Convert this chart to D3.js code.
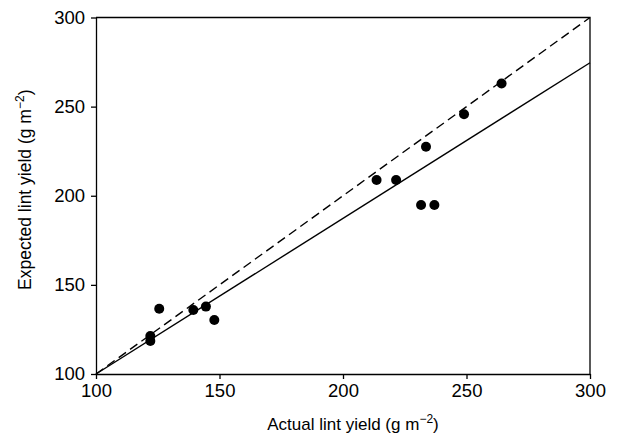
<!DOCTYPE html>
<html lang="en">
<head>
<meta charset="UTF-8">
<title>Expected vs actual lint yield</title>
<script src="https://d3js.org/d3.v7.min.js"></script>
<style>
  body { margin: 0; background: #fff; font-family: "Liberation Sans", Arial, sans-serif; }
  .axis path, .axis line { stroke: #000; stroke-width: 1.3; }
</style>
</head>
<body>
<svg width="620" height="440"></svg>
<script>
// observed points (actual, expected)
const actual   = [122, 122, 125.6, 139.4, 144.5, 147.9, 213.6, 221.5, 233.6, 231.6, 237, 249, 264.2];
const expected = [121.3, 118.5, 136.6, 135.9, 137.8, 130.3, 208.8, 208.8, 227.5, 194.8, 194.8, 245.7, 263];

// reference lines
const lineX = [100, 300];
const oneToOne = [100, 300];
const fitted = [100, 274.6];

const ticks = [100, 150, 200, 250, 300];

const svg = d3.select("svg");
const m = { left: 96, right: 590, top: 17.5, bottom: 374 };

const x = d3.scaleLinear().domain([100, 300]).range([m.left, m.right]);
const y = d3.scaleLinear().domain([100, 300]).range([m.bottom, m.top]);

// frame on top and right
svg.append("path")
  .attr("d", `M${m.left},${m.top}H${m.right}V${m.bottom}`)
  .attr("fill", "none").attr("stroke", "#000").attr("stroke-width", 1.3);

const gx = svg.append("g").attr("class", "axis")
  .attr("transform", `translate(0,${m.bottom})`)
  .call(d3.axisBottom(x).tickValues(ticks).tickSize(5).tickPadding(5).tickSizeOuter(0));

const gy = svg.append("g").attr("class", "axis")
  .attr("transform", `translate(${m.left},0)`)
  .call(d3.axisLeft(y).tickValues(ticks).tickSize(5).tickPadding(6).tickSizeOuter(0));

[gx, gy].forEach(g => g.attr("font-family", "Liberation Sans, Arial, sans-serif")
  .attr("font-size", 18.5)
  .selectAll("text").attr("fill", "#000"));

const line = d3.line().x(d => x(d[0])).y(d => y(d[1]));

svg.append("path")
  .attr("d", line(lineX.map((v, i) => [v, oneToOne[i]])))
  .attr("fill", "none").attr("stroke", "#000").attr("stroke-width", 1.4)
  .attr("stroke-dasharray", "9,5");

svg.append("path")
  .attr("d", line(lineX.map((v, i) => [v, fitted[i]])))
  .attr("fill", "none").attr("stroke", "#000").attr("stroke-width", 1.4);

svg.append("g").selectAll("circle")
  .data(actual.map((v, i) => [v, expected[i]]))
  .join("circle")
  .attr("cx", d => x(d[0]))
  .attr("cy", d => y(d[1]))
  .attr("r", 5)
  .attr("fill", "#000");

// axis titles
const xt = svg.append("text")
  .attr("x", 353).attr("y", 430)
  .attr("text-anchor", "middle").attr("font-size", 17);
xt.append("tspan").text("Actual lint yield (g m");
xt.append("tspan").attr("dy", -7).attr("font-size", 12).text("\u22122");
xt.append("tspan").attr("dy", 7).text(")");

const yt = svg.append("text")
  .attr("transform", `translate(31,${(m.top + m.bottom) / 2 - 6}) rotate(-90)`)
  .attr("text-anchor", "middle").attr("font-size", 17.5);
yt.append("tspan").text("Expected lint yield (g m");
yt.append("tspan").attr("dy", -7).attr("font-size", 12).text("\u22122");
yt.append("tspan").attr("dy", 7).text(")");
</script>
</body>
</html>
